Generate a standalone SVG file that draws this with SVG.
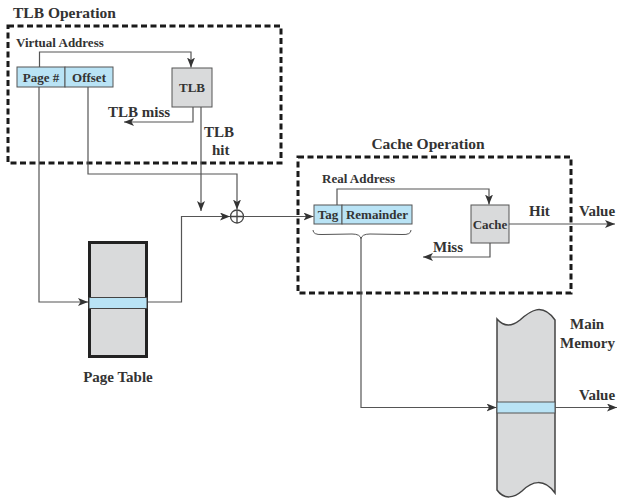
<svg xmlns="http://www.w3.org/2000/svg" width="619" height="501" viewBox="0 0 619 501">
<defs>
<marker id="arr" viewBox="0 0 10 8" refX="10" refY="4" markerWidth="10" markerHeight="8" markerUnits="userSpaceOnUse" orient="auto">
<path d="M0,0 L10,4 L0,8 L2.5,4 Z" fill="#333"/>
</marker>
</defs>
<style>
text{font-family:"Liberation Serif","Times New Roman",serif;font-weight:bold;fill:#333;}
.t13{font-size:15.5px;}
.t12{font-size:15px;}
.t11{font-size:13px;}
.dash{fill:none;stroke:#1a1a1a;stroke-width:3;stroke-dasharray:6 3.5;}
.blue{fill:#b9e3f5;stroke:#555;stroke-width:1;}
.gray{fill:#d9dadb;stroke:#555;stroke-width:1;}
.la{fill:none;stroke:#555;stroke-width:1.2;marker-end:url(#arr);}
</style>
<rect width="619" height="501" fill="#fff"/>

<g id="tlb-operation">
<rect class="dash" x="8" y="26" width="273" height="137"/>
<text class="t13" x="13" y="18">TLB Operation</text>
<text class="t11" x="16" y="47">Virtual Address</text>
</g>

<g id="virtual-address">
<rect class="blue" x="17" y="67" width="48" height="20"/>
<rect class="blue" x="65" y="67" width="48" height="20"/>
<text class="t11" x="41" y="81.5" text-anchor="middle">Page #</text>
<text class="t11" x="89" y="81.5" text-anchor="middle">Offset</text>
</g>

<g id="tlb">
<rect class="gray" x="172" y="68" width="40" height="39"/>
<text class="t11" x="192" y="92" text-anchor="middle">TLB</text>
</g>

<g id="adder">
<circle cx="237" cy="216.5" r="6.5" fill="#fff" stroke="#444" stroke-width="1.3"/>
<path d="M230.5,216.5 H243.5 M237,210 V223" stroke="#444" stroke-width="1.3"/>
</g>

<g id="page-table">
<rect x="89.5" y="242.5" width="57" height="114" fill="#d9dadb" stroke="#222" stroke-width="3"/>
<rect x="89" y="297.5" width="58" height="11" fill="#b9e3f5" stroke="#444" stroke-width="1"/>
<text class="t12" x="118" y="382" text-anchor="middle">Page Table</text>
</g>

<g id="cache-operation">
<rect class="dash" x="298" y="157" width="273" height="136"/>
<text class="t13" x="428" y="149" text-anchor="middle">Cache Operation</text>
<text class="t11" x="322" y="183">Real Address</text>
</g>

<g id="real-address">
<rect class="blue" x="314" y="205" width="28" height="19"/>
<rect class="blue" x="342" y="205" width="70" height="19"/>
<text class="t11" x="328" y="219" text-anchor="middle">Tag</text>
<text class="t11" x="377" y="219" text-anchor="middle">Remainder</text>
<path d="M313,230 Q313,235 322,234.5 L352,234 Q360.5,234 361,239 Q361.5,234 370,234 L402,234.5 Q411,235 411,230" fill="none" stroke="#555" stroke-width="1"/>
</g>

<g id="cache">
<rect class="gray" x="471" y="205" width="38" height="38"/>
<text class="t11" x="490" y="228.5" text-anchor="middle">Cache</text>
</g>

<g id="main-memory">
<path d="M497,319 C503,326 510,328 520,320 C530,311 542,302 555,320 L555,493 C544,478 532,481 522,491 C514,498 504,500 497,490 Z" fill="#d9dadb" stroke="#444" stroke-width="1.5"/>
<rect x="497" y="402" width="58" height="11" fill="#b9e3f5" stroke="#555" stroke-width="1"/>
<text class="t12" x="570" y="329">Main</text>
<text class="t12" x="560" y="348">Memory</text>
</g>

<g id="connectors">
<path class="la" d="M39.5,67 V52 H191 V67.5"/>
<path class="la" d="M193,107 V122 H124"/>
<path class="la" d="M201,107 V211"/>
<path class="la" d="M88,87 V174 H237 V209.5"/>
<path class="la" d="M39,87 V302 H88"/>
<path class="la" d="M148,302 H181.5 V216.5 H230"/>
<path class="la" d="M243.5,216.5 H313.5"/>
<path class="la" d="M337,205 V189 H489 V204.5"/>
<path class="la" d="M490,243 V257 H423"/>
<path class="la" d="M509,224 H615"/>
<path class="la" d="M361,239 V407.5 H496.5"/>
<path class="la" d="M555,407.5 H617"/>
</g>

<g id="labels">
<text class="t12" x="108" y="117">TLB miss</text>
<text class="t12" x="204" y="137">TLB</text>
<text class="t12" x="212" y="155">hit</text>
<text class="t12" x="433" y="252">Miss</text>
<text class="t12" x="529" y="216">Hit</text>
<text class="t12" x="579" y="216">Value</text>
<text class="t12" x="579" y="400">Value</text>
</g>
</svg>
